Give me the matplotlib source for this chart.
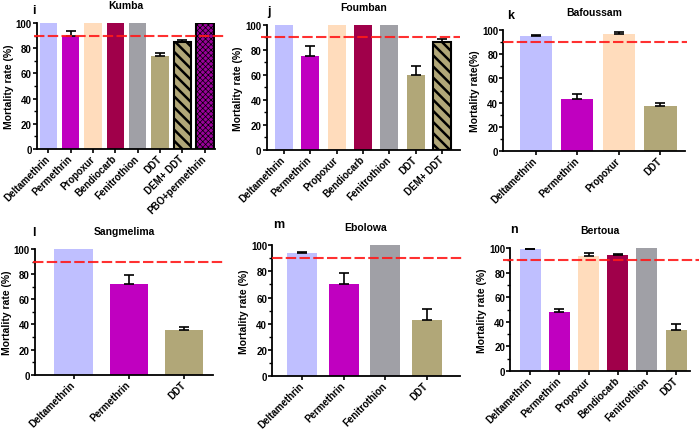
import numpy as np
import matplotlib
matplotlib.use("Agg")
import matplotlib.pyplot as plt

plt.rcParams['font.family'] = ['Liberation Sans', 'DejaVu Sans']
plt.rcParams['font.weight'] = 'bold'

# colours per insecticide
colors = {
    "Deltamethrin": "#bfbfff",
    "Permethrin": "#c000c0",
    "Propoxur": "#ffdcbc",
    "Bendiocarb": "#a0004a",
    "Fenitrothion": "#a0a0a6",
    "DDT": "#b1a778",
    "DEM+ DDT": "#b1a778",
    "PBO+permethrin": "#9a009a",
}

kumba_names = ["Deltamethrin", "Permethrin", "Propoxur", "Bendiocarb", "Fenitrothion", "DDT", "DEM+ DDT", "PBO+permethrin"]
kumba_vals = [100, 90, 100, 100, 100, 74, 85, 100]
kumba_err = [0, 3.5, 0, 0, 0, 2, 1.5, 0]

foumban_names = ["Deltamethrin", "Permethrin", "Propoxur", "Bendiocarb", "Fenitrothion", "DDT", "DEM+ DDT"]
foumban_vals = [100, 75, 100, 100, 100, 59.5, 86]
foumban_err = [0, 8, 0, 0, 0, 7.5, 3]

bafoussam_names = ["Deltamethrin", "Permethrin", "Propoxur", "DDT"]
bafoussam_vals = [95, 43, 96.5, 37]
bafoussam_err = [1, 4, 2, 3]

sangmelima_names = ["Deltamethrin", "Permethrin", "DDT"]
sangmelima_vals = [100, 72.5, 36]
sangmelima_err = [0, 6.5, 2]

ebolowa_names = ["Deltamethrin", "Permethrin", "Fenitrothion", "DDT"]
ebolowa_vals = [94, 70.5, 100, 43]
ebolowa_err = [1, 8, 0, 8.5]

bertoua_names = ["Deltamethrin", "Permethrin", "Propoxur", "Bendiocarb", "Fenitrothion", "DDT"]
bertoua_vals = [99, 48, 93.5, 94, 100, 33]
bertoua_err = [0.5, 2.5, 2.5, 1, 0, 5]

threshold = 90

panels = [
    # letter, title, names, vals, err, axes rect, xlim, bar width, redline span, ylabel, letter pos (px)
    ("i", "Kumba", kumba_names, kumba_vals, kumba_err, [0.053, 0.652, 0.254, 0.292], (-0.5, 7.45), 0.78, (-0.02, 1.06), "Mortality rate (%)", (32, 14)),
    ("j", "Foumban", foumban_names, foumban_vals, foumban_err, [0.381, 0.650, 0.276, 0.290], (-0.65, 6.68), 0.68, (-0.03, 1.0), "Mortality rate (%)", (267, 15)),
    ("k", "Bafoussam", bafoussam_names, bafoussam_vals, bafoussam_err, [0.719, 0.647, 0.260, 0.281], (-0.78, 3.6), 0.78, (0.0, 1.01), "Mortality rate(%)", (507, 19)),
    ("l", "Sangmelima", sangmelima_names, sangmelima_vals, sangmelima_err, [0.05, 0.128, 0.254, 0.292], (-0.7, 2.52), 0.7, (-0.01, 1.07), "Mortality rate (%)", (32, 236)),
    ("m", "Ebolowa", ebolowa_names, ebolowa_vals, ebolowa_err, [0.389, 0.125, 0.268, 0.304], (-0.72, 3.8), 0.72, (0.0, 1.02), "Mortality rate (%)", (273, 228)),
    ("n", "Bertoua", bertoua_names, bertoua_vals, bertoua_err, [0.729, 0.137, 0.257, 0.285], (-0.68, 5.48), 0.72, (-0.04, 1.05), "Mortality rate (%)", (510, 233)),
]

fig = plt.figure(figsize=(7, 4.31), dpi=100)

for letter, title, names, vals, err, rect, xlim, width, span, ylab, lpos in panels:
    ax = fig.add_axes(rect)
    x = np.arange(len(names))
    for i, name in enumerate(names):
        if name == "DEM+ DDT":
            with plt.rc_context({'hatch.linewidth': 1.8}):
                ax.bar(x[i], vals[i], width, color=colors[name], edgecolor="black",
                       linewidth=1.5, hatch="\\\\\\", zorder=2)
        elif name == "PBO+permethrin":
            with plt.rc_context({'hatch.linewidth': 0.5}):
                ax.bar(x[i], vals[i], width, color=colors[name], edgecolor="black",
                       linewidth=1.5, hatch="xxxxxx", zorder=2)
        else:
            ax.bar(x[i], vals[i], width, color=colors[name], zorder=2)
    # only upper error bars, none where SE is zero
    e = np.array(err, dtype=float)
    v = np.array(vals, dtype=float)
    m = e > 0
    ax.errorbar(x[m], v[m], yerr=[np.zeros(m.sum()), e[m]], fmt="none", ecolor="black",
                elinewidth=1.2, capsize=3.5, capthick=1.2, zorder=3)
    ax.plot(span, [threshold, threshold], color="#ff1a1a", lw=1.5,
            linestyle=(0, (5, 1.6)), transform=ax.get_yaxis_transform(),
            clip_on=False, zorder=4, alpha=0.9)
    ax.set_xlim(*xlim)
    ax.set_ylim(0, 100)
    ax.set_yticks([0, 20, 40, 60, 80, 100])
    ax.set_yticks(np.arange(0, 101, 10), minor=True)
    ax.set_xticks(x)
    ax.set_xticklabels(names, rotation=45, ha="right", va="center",
                       rotation_mode="anchor", fontsize=7, fontweight="bold")
    ax.tick_params(axis="y", labelsize=7, width=1.2, length=3, pad=0.8)
    ax.tick_params(axis="y", which="minor", width=1.0, length=2)
    ax.tick_params(axis="x", width=1.2, length=3, pad=2.5)
    for lab in ax.get_yticklabels():
        lab.set_fontweight("bold")
    ax.spines["top"].set_visible(False)
    ax.spines["right"].set_visible(False)
    ax.spines["left"].set_linewidth(1.3)
    ax.spines["bottom"].set_linewidth(1.3)
    ax.set_ylabel(ylab, fontsize=7.5, fontweight="bold", labelpad=1.5)
    ax.set_title(title, fontsize=7.5, fontweight="bold", pad=11)
    fig.text(lpos[0] / 700, 1 - lpos[1] / 431, letter, fontsize=9,
             fontweight="bold", ha="left", va="baseline")

fig.savefig("out.png", dpi=100)
